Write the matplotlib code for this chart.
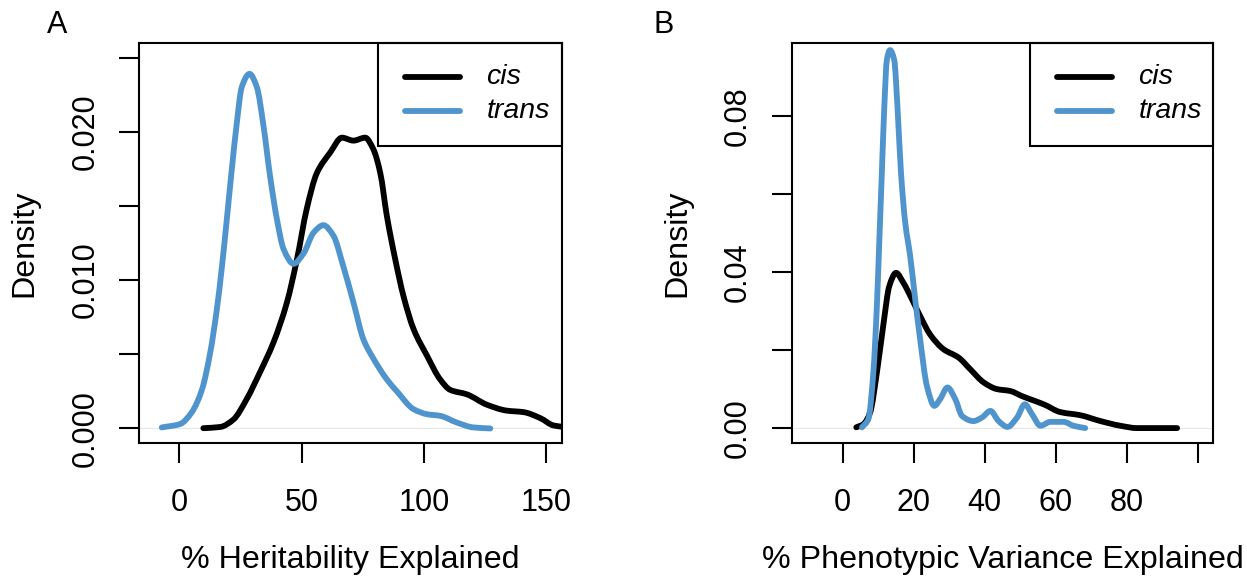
import matplotlib
matplotlib.use("Agg")
import numpy as np
import matplotlib.pyplot as plt
from matplotlib.lines import Line2D
from matplotlib.patches import Rectangle, PathPatch
from matplotlib.path import Path

plt.rcParams['font.family'] = ['Liberation Sans', 'DejaVu Sans']

# ---------------- data ----------------
# Panel A: % heritability explained
cis_h_x = [9.8, 16.7, 22.1, 27.6, 33.0, 38.5, 44.0, 48.1, 52.1, 56.2, 61.7, 66.5, 71.2, 76.0,
           79.4, 82.2, 84.9, 88.3, 91.7, 95.8, 101.3, 106.7, 110.8, 117.6, 125.8, 134.0, 140.8,
           147.6, 153.1, 157.2, 160.0]
cis_h_y = [0.00002, 0.0001, 0.0006, 0.0020, 0.0038, 0.0058, 0.0085, 0.0114, 0.0148, 0.0172,
           0.0186, 0.0196, 0.0194, 0.0196, 0.0188, 0.0172, 0.0143, 0.0114, 0.0089, 0.0067,
           0.0049, 0.0033, 0.0026, 0.0023, 0.0016, 0.0012, 0.0011, 0.0007, 0.0002, 0.0001, 0.0]

trans_h_x = [-7.2, 0.3, 5.1, 9.2, 12.6, 15.3, 17.4, 19.4, 21.4, 23.5, 25.5, 28.7, 31.7, 34.4,
             37.1, 39.9, 42.6, 46.7, 50.8, 54.9, 58.9, 63.0, 67.1, 71.2, 75.3, 79.4, 84.9,
             89.0, 95.8, 101.3, 106.7, 113.5, 120.3, 127.2]
trans_h_y = [0.00007, 0.0003, 0.0011, 0.0026, 0.0051, 0.0080, 0.0109, 0.0141, 0.0174, 0.0206,
             0.0230, 0.0239, 0.0230, 0.0204, 0.0170, 0.0141, 0.0121, 0.0111, 0.0118, 0.0132,
             0.0137, 0.0130, 0.0109, 0.0085, 0.0060, 0.0047, 0.0033, 0.0025, 0.0013, 0.00096,
             0.00085, 0.0004, 0.00007, 0.0]

# Panel B: % phenotypic variance explained
cis_p_x = [3.8, 5.8, 7.7, 9.6, 11.5, 13.1, 15.0, 17.1, 19.5, 21.8, 24.6, 28.4, 32.6, 35.9, 39.7,
           43.4, 47.2, 50.5, 52.8, 56.6, 61.3, 66.9, 72.6, 78.2, 82.9, 94.2]
cis_p_y = [0.0003, 0.0011, 0.0041, 0.0143, 0.0271, 0.0365, 0.0399, 0.0373, 0.0331, 0.0288,
           0.0241, 0.0203, 0.0182, 0.0152, 0.0118, 0.0101, 0.0096, 0.0083, 0.0075, 0.0062,
           0.0042, 0.0034, 0.0019, 0.0007, 0.0001, 0.0001]

trans_p_x = [5.4, 7.2, 8.6, 9.6, 10.3, 11.0, 11.7, 12.4, 13.3, 14.5, 15.4, 16.4, 17.6, 19.0,
             20.4, 21.8, 23.7, 25.8, 27.4, 29.5, 31.7, 33.6, 36.8, 39.2, 41.6, 43.9, 46.4,
             49.1, 51.3, 53.3, 55.7, 58.5, 62.2, 65.0, 68.3]
trans_p_y = [0.0003, 0.0024, 0.0143, 0.0314, 0.0484, 0.0655, 0.0825, 0.0944, 0.0970, 0.0944,
             0.0825, 0.0655, 0.0527, 0.0441, 0.0331, 0.0228, 0.0109, 0.0058, 0.0075, 0.0105,
             0.0075, 0.0032, 0.0019, 0.0028, 0.0045, 0.0019, 0.0004, 0.0028, 0.0062, 0.0037,
             0.0007, 0.0017, 0.0017, 0.0007, 0.0001]

series_labels = ["cis", "trans"]
panel_letters = ["A", "B"]
xlabels = ["% Heritability Explained", "% Phenotypic Variance Explained"]
ylabel = "Density"
xticks_A = [0, 50, 100, 150]
yticks_A = [0.000, 0.005, 0.010, 0.015, 0.020, 0.025]
yticklabels_A = ["0.000", "", "0.010", "", "0.020", ""]
xticks_B = [0, 20, 40, 60, 80, 100]
xticklabels_B = ["0", "20", "40", "60", "80", ""]
yticks_B = [0.00, 0.02, 0.04, 0.06, 0.08]
yticklabels_B = ["0.00", "", "0.04", "", "0.08"]

# ---------------- styling ----------------
W, H = 1247, 577
DPI = 100
BLUE = "#4F94CD"
FS_TICK = 22
FS_LAB = 23.2
FS_LEG = 20.5
LW = 4.2

fig = plt.figure(figsize=(W / DPI, H / DPI), dpi=DPI)


def px_axes(l, r, t, b):
    return fig.add_axes([l / W, 1 - b / H, (r - l) / W, (b - t) / H])


def smooth_curve(ax, xs, ys, color):
    """Draw a smooth curve through the traced points (monotone cubic Hermite as Bezier)."""
    x = np.asarray(xs, float)
    y = np.asarray(ys, float)
    h = np.diff(x)
    d = np.diff(y) / h
    m = np.zeros_like(x)
    for i in range(1, len(x) - 1):
        if d[i - 1] * d[i] > 0:
            w1 = 2 * h[i] + h[i - 1]
            w2 = h[i] + 2 * h[i - 1]
            m[i] = (w1 + w2) / (w1 / d[i - 1] + w2 / d[i])
    m[0] = d[0]
    m[-1] = d[-1]
    verts = [(x[0], y[0])]
    codes = [Path.MOVETO]
    for i in range(len(x) - 1):
        verts += [(x[i] + h[i] / 3, y[i] + m[i] * h[i] / 3),
                  (x[i + 1] - h[i] / 3, y[i + 1] - m[i + 1] * h[i] / 3),
                  (x[i + 1], y[i + 1])]
        codes += [Path.CURVE4] * 3
    patch = PathPatch(Path(verts, codes), fill=False, ec=color, lw=LW,
                      capstyle="round", joinstyle="round", zorder=3)
    ax.add_patch(patch)


def style(ax):
    for s in ax.spines.values():
        s.set_linewidth(1.5)
        s.set_color("black")
    ax.tick_params(axis="both", direction="out", length=14.4, width=1.5,
                   labelsize=FS_TICK, color="black")
    ax.tick_params(axis="x", pad=18)
    ax.tick_params(axis="y", pad=13.6)
    ax.axhline(0, color="#e6e6e6", lw=0.8, zorder=1)


def legend(ax):
    ax.add_patch(Rectangle((0.566, 0.742), 0.434, 0.258, transform=ax.transAxes,
                           fill=False, lw=1.5, ec="black", clip_on=False, zorder=5))
    for yy, col, lab in [(0.914, "black", series_labels[0]), (0.829, BLUE, series_labels[1])]:
        ax.add_line(Line2D([0.630, 0.760], [yy, yy], transform=ax.transAxes, color=col,
                           lw=LW, solid_capstyle="round", zorder=6))
        ax.text(0.822, yy, lab, transform=ax.transAxes, fontsize=FS_LEG, style="italic",
                va="center", ha="left", zorder=6)


# Panel A
axA = px_axes(139.3, 561.7, 42.7, 443.3)
axA.set_xlim(-16.4, 156.4)
axA.set_ylim(-0.001, 0.026)
style(axA)
smooth_curve(axA, cis_h_x, cis_h_y, "black")
smooth_curve(axA, trans_h_x, trans_h_y, BLUE)
axA.set_xticks(xticks_A)
axA.set_xticklabels([str(v) for v in xticks_A])
axA.set_yticks(yticks_A)
axA.set_yticklabels(yticklabels_A, rotation=90, va="center")
axA.set_xlabel(xlabels[0], fontsize=FS_LAB, labelpad=19)
axA.set_ylabel(ylabel, fontsize=FS_LAB, labelpad=22)
legend(axA)
fig.text(57 / W, 1 - 25 / H, panel_letters[0], fontsize=FS_TICK, ha="center", va="center")

# Panel B
axB = px_axes(791.7, 1213.3, 42.7, 443.3)
axB.set_xlim(-14.4, 104.4)
axB.set_ylim(-0.0038, 0.0989)
style(axB)
smooth_curve(axB, cis_p_x, cis_p_y, "black")
smooth_curve(axB, trans_p_x, trans_p_y, BLUE)
axB.set_xticks(xticks_B)
axB.set_xticklabels(xticklabels_B)
axB.set_yticks(yticks_B)
axB.set_yticklabels(yticklabels_B, rotation=90, va="center")
axB.set_xlabel(xlabels[1], fontsize=FS_LAB, labelpad=19)
axB.set_ylabel(ylabel, fontsize=FS_LAB, labelpad=22)
legend(axB)
fig.text(664 / W, 1 - 25 / H, panel_letters[1], fontsize=FS_TICK, ha="center", va="center")

fig.savefig("out.png", dpi=DPI)
